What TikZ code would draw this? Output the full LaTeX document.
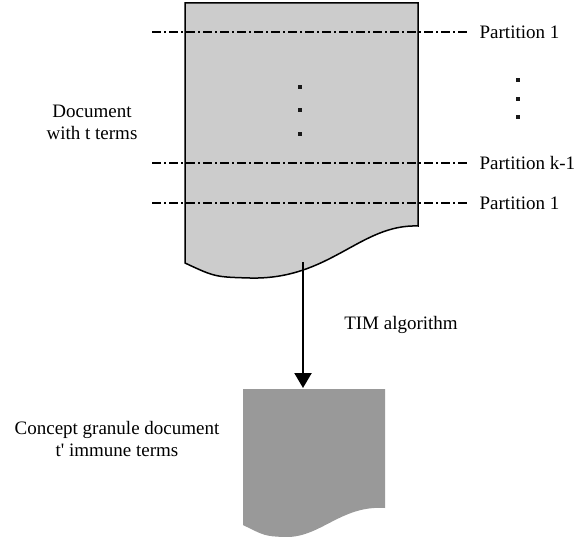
\documentclass[tikz,border=0pt]{standalone}
\usepackage{fontspec}
\setmainfont{Liberation Serif}[Ligatures=TeXOff]
\usetikzlibrary{arrows.meta}
\begin{document}
\begin{tikzpicture}[x=1pt, y=-1pt, thick,
    main/.style = {draw=none, font=\fontsize{19}{22}\selectfont, align=center, inner sep=0pt},
    part/.style = {line width=1.3pt, dash pattern=on 9pt off 3pt on 2pt off 3pt},
    dot/.style = {fill=black!90, minimum size=3.6pt, inner sep=0pt}]
    \useasboundingbox (0,0) rectangle (583,537);
    % document with t terms
    \draw[fill=black!20, line width=1.5pt] (185,3) -- (418,3) -- (418,226)
        .. controls (360,224) and (330,280) .. (250,278) .. controls (215,277) .. (185,263) -- cycle;
    % concept granule document
    \fill[black!40] (243,389) -- (385,389) -- (385,508)
        .. controls (340,505) and (320,539) .. (283,537) .. controls (265,536) .. (243,525) -- cycle;

    \foreach \y/\t [count=\i] in {32/Partition 1, 163/Partition k-1, 203/Partition 1}
        \draw[part] (152,\y) -- (468,\y) node[main, anchor=west, xshift=11pt] (p\i) {\t};
    \foreach \y [count=\i] in {87,110,134}
        \node[dot] (a\i) at (300,\y) {};
    \foreach \y [count=\i] in {80,99,117}
        \node[dot] (b\i) at (518,\y) {};

    \node[main] (1) at (92,122)  {Document\\with t terms};
    \node[main] (2) at (401,325) {TIM algorithm};
    \node[main] (3) at (117,439) {Concept granule document\\t' immune terms};

    \coordinate (out) at (303,262);
    \coordinate (in)  at (303,388);
    \draw[line width=2.2pt, -{Triangle[length=15pt,width=17pt]}] (out) -- (in);
\end{tikzpicture}
\end{document}
